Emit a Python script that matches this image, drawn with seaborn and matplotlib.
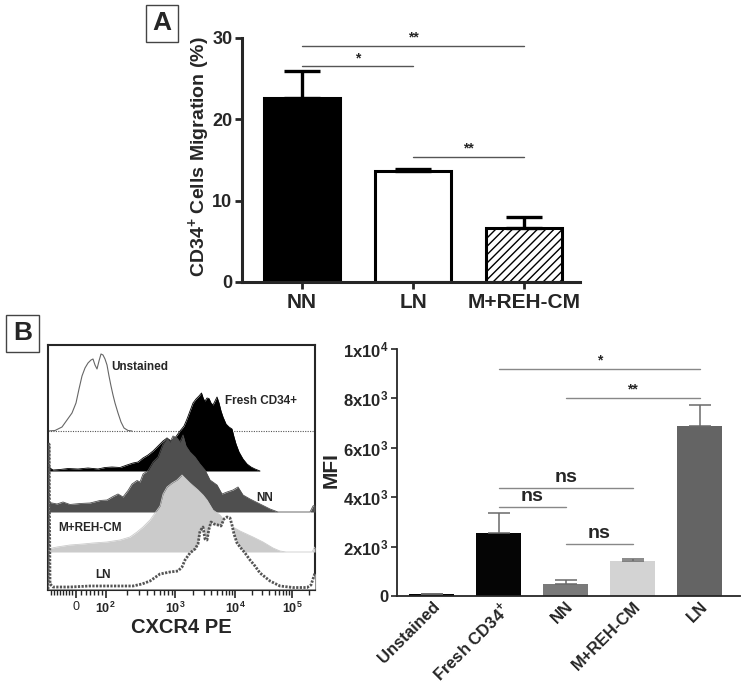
import numpy as np
import pandas as pd
import matplotlib
matplotlib.use("Agg")
import matplotlib.pyplot as plt
from matplotlib.patches import Rectangle
from matplotlib.transforms import ScaledTranslation
import seaborn as sns

# ---- Panel A: CD34+ migration (%)
mig_groups = ["NN", "LN", "M+REH-CM"]
mig_mean = [22.6, 13.6, 6.6]
mig_err = [3.3, 0.3, 1.4]
# (from, to, height, label)
mig_sig = [(0, 2, 29.0, "**"), (0, 1, 26.5, "*"), (1, 2, 15.4, "**")]

# ---- Panel B: CXCR4 histograms (channel scale, counts)
hist_ticks = [28, 57.7, 127, 187, 244]
hist_ticklabels = ["0", r"$10^{2}$", r"$10^{3}$", r"$10^{4}$", r"$10^{5}$"]

unst_x = [0, 7, 14, 19, 24, 28, 31, 34, 37, 40, 43, 45, 47, 49, 51, 53, 55, 57, 59, 61,
          63, 65, 67, 70, 73, 76, 80, 84]
unst_y = [0, 0.5, 4, 11, 18, 28, 42, 55, 63, 68, 71, 72, 66, 62, 70, 77, 76, 72, 66, 55,
          45, 36, 28, 18, 9, 3, 0.5, 0]

fresh_x = [0, 2, 5, 12, 20, 30, 40, 50, 57, 64, 72, 79, 85, 90, 95, 100, 105, 110, 115, 119,
           123, 127, 132, 136, 139, 142, 145, 148, 151, 153.5, 155.5, 157, 159, 161, 163, 165,
           167, 169, 171, 173, 175, 178, 181, 184, 186, 188, 191, 195, 199, 203, 207, 212]
fresh_y = [8, 3, 1, 1.5, 2.5, 2, 3, 2, 3.5, 4, 3.5, 6, 8, 9, 13, 16, 20, 25, 30, 33,
           30, 33, 40, 45, 52, 60, 68, 72, 75, 78, 72, 70, 73, 72.5, 68, 66,
           70, 74, 68, 60, 54, 47, 44, 42, 34, 27, 19, 12, 7, 4, 2, 0]

nn_x = [0, 4, 9, 15, 22, 32, 42, 52, 59, 65, 70, 75, 80, 84, 89, 92, 95, 100, 105, 110,
        115, 119, 122, 125, 129, 132, 135, 138, 142, 147, 152, 157, 162, 169, 174, 179, 185,
        190, 195, 202, 212, 222, 230, 262, 265, 267]
nn_y = [10, 9, 8, 10, 7.5, 8.5, 9, 11.5, 12, 15.5, 18, 15, 21.5, 28, 31.5, 30, 38, 41.5, 50, 55,
        68, 74, 70, 76, 74, 70, 77, 66, 60, 55, 48, 42, 32, 27, 18, 20, 22,
        25, 17, 13, 8, 3, 0, 0, 6, 7]

mreh_x = [0, 2, 9, 22, 35, 45, 59, 72, 82, 89, 95, 102, 107, 112, 115, 119, 124, 129, 134, 137,
          142, 150, 155, 159, 165, 172, 179, 185, 192, 205, 215, 225, 232, 238, 264, 266, 267]
mreh_y = [3, 3.5, 5, 7, 8, 9, 10, 12, 15, 20, 25, 32, 39, 46, 58, 65, 69, 72, 77, 74,
          69, 62, 57, 52, 42, 37, 28, 25, 21, 15, 10, 4, 1, 0, 0, 4, 5]

ln_x = [0, 1, 2, 5, 22, 42, 62, 85, 94, 102, 112, 122, 130, 134, 137, 142, 147, 150, 152, 155,
        157, 159, 161, 163, 166, 170, 173, 176, 179, 182, 184, 186, 189, 192, 197, 202, 207,
        212, 217, 222, 232, 245, 259, 263, 265, 267]
ln_y = [0, 145, 5, 2, 2, 3, 3, 3, 5, 8, 15, 17, 18, 22, 29, 36, 40, 45, 58, 62,
        50, 49, 60, 67, 65, 64, 63, 70, 72, 71, 64, 55, 46, 42, 36, 29, 23,
        16, 12, 8, 3, 1.5, 1.5, 4, 10, 16]

# ---- Panel B: MFI bars
mfi_groups = ["Unstained", r"Fresh CD34$^{\mathbf{+}}$", "NN", "M+REH-CM", "LN"]
mfi_mean = [100, 2570, 480, 1420, 6880]
mfi_err = [0, 810, 170, 70, 860]
mfi_sig = [(1, 4, 9190, "*", 10), (2, 4, 8010, "**", 10), (1, 3, 4390, "ns", 14),
           (1, 2, 3620, "ns", 14), (2, 3, 2110, "ns", 14)]
mfi_colors = ["#050505", "#050505", "#7a7a7a", "#d3d3d3", "#646464"]

sns.set_style("ticks")
plt.rcParams["font.family"] = ["Liberation Sans", "DejaVu Sans"]
plt.rcParams["font.weight"] = "bold"
plt.rcParams["axes.labelweight"] = "bold"
plt.rcParams["mathtext.fontset"] = "custom"
plt.rcParams["mathtext.rm"] = "Liberation Sans"
plt.rcParams["mathtext.bf"] = "Liberation Sans:bold"
plt.rcParams["hatch.linewidth"] = 1.0

W, H = 743, 684
fig = plt.figure(figsize=(W / 100, H / 100), dpi=100)


def px_axes(l, t, r, b):
    return fig.add_axes([l / W, 1 - b / H, (r - l) / W, (b - t) / H])


def panel_label(txt, l, t, r, b):
    fig.add_artist(Rectangle((l / W, 1 - b / H), (r - l) / W, (b - t) / H,
                             transform=fig.transFigure, fill=False, ec="#444444", lw=1))
    fig.text((l + r) / 2 / W, 1 - (t + b) / 2 / H, txt, ha="center", va="center",
             fontsize=19, fontweight="bold")


# ================= Panel A
axA = px_axes(242, 38, 580, 282)
dfA = pd.DataFrame({"group": mig_groups, "mean": mig_mean})
sns.barplot(data=dfA, x="group", y="mean", hue="group", palette=["black", "white", "white"],
            saturation=1, width=0.685, edgecolor="black", linewidth=2.2, errorbar=None,
            legend=False, ax=axA)
axA.patches[2].set_hatch("////")
axA.errorbar(range(len(mig_mean)), mig_mean, yerr=[[0] * len(mig_err), mig_err], fmt="none",
             ecolor="black", elinewidth=2.4, capsize=13, capthick=2.4, zorder=3)
for a, b, h, s in mig_sig:
    axA.plot([a, b], [h, h], color="#555555", lw=1)
    axA.text((a + b) / 2, h + 0.15, s, ha="center", va="bottom", fontsize=10)
axA.set_xlim(-0.54, 2.5)
axA.set_ylim(0, 30)
axA.set_yticks([0, 10, 20, 30])
sns.despine(ax=axA)
for sp in ["left", "bottom"]:
    axA.spines[sp].set_linewidth(2.2)
axA.tick_params(axis="y", width=2, length=5, labelsize=13, pad=2)
axA.tick_params(axis="x", width=2, length=5, labelsize=15, pad=3)
axA.set_xlabel("")
axA.set_ylabel(r"CD34$^{\mathbf{+}}$ Cells Migration (%)", fontsize=14)
axA.yaxis.set_label_coords(-0.086, 0.512)
panel_label("A", 146, 5, 178, 42)

# ================= Panel B histogram
axH = px_axes(48, 345, 315, 590)
lanes = [
    ("Unstained", unst_x, unst_y, 159, "white"),
    ("Fresh CD34+", fresh_x, fresh_y, 119, "black"),
    ("NN", nn_x, nn_y, 78, "#4f4f4f"),
    ("M+REH-CM", mreh_x, mreh_y, 38, "#cbcbcb"),
    ("LN", ln_x, ln_y, 1, "white"),
]
for i, (name, xs, ys, off, col) in enumerate(lanes):
    xs = np.array(xs)
    ys = np.array(ys) + off
    z = 2 + i
    axH.fill_between(xs, off, ys, color=col, lw=0, zorder=z)
    if name == "Unstained":
        axH.axhline(off, color="#555555", lw=0.8, ls=(0, (1, 1.2)), zorder=z)
        axH.plot(xs, ys, color="#666666", lw=0.8, zorder=z)
    elif name == "LN":
        axH.plot(xs, ys, color="#555555", lw=2, ls=(0, (0.8, 0.5)), zorder=z)
    else:
        axH.plot(xs, ys, color=col, lw=0.6, zorder=z)

lane_text = [("Unstained", 63.7, 223, "left"), ("Fresh CD34+", 177, 189, "left"),
             ("NN", 217, 92, "center"), ("M+REH-CM", 10, 62, "left"), ("LN", 54.5, 15, "center")]
for t, x, y, ha in lane_text:
    axH.text(x, y, t, ha=ha, va="center", fontsize=8.5, zorder=10)

axH.set_xlim(0, 267)
axH.set_ylim(0, 245)
axH.set_yticks([])
axH.set_xticks(hist_ticks)
axH.set_xticklabels(hist_ticklabels, fontsize=9, fontweight="normal")
minor = [3, 6, 9, 12, 15, 18, 21, 24, 33, 38, 42, 46, 50, 54]
for a, b in zip(hist_ticks[1:-1], hist_ticks[2:]):
    minor += [a + (b - a) * np.log10(k) for k in range(2, 10)]
minor += [244 + 57 * np.log10(2)]
axH.set_xticks(minor, minor=True)
axH.tick_params(axis="x", which="major", length=6, width=1.2, pad=2)
axH.tick_params(axis="x", which="minor", length=3.5, width=1)
for sp in axH.spines.values():
    sp.set_linewidth(1.5)
axH.set_xlabel("CXCR4 PE", fontsize=14.5, labelpad=1)
panel_label("B", 6, 315, 39, 352)

# ================= Panel B bars
axB = px_axes(397, 349, 740, 596)
dfB = pd.DataFrame({"group": mfi_groups, "mfi": mfi_mean})
sns.barplot(data=dfB, x="group", y="mfi", hue="group", palette=mfi_colors, saturation=1,
            width=0.67, linewidth=0, errorbar=None, legend=False, ax=axB)
axB.errorbar(range(len(mfi_mean)), mfi_mean, yerr=[[0] * len(mfi_err), mfi_err], fmt="none",
             ecolor="#6a6a6a", elinewidth=1.1, capsize=8, capthick=1.1, zorder=3)
for a, b, h, s, fs in mfi_sig:
    axB.plot([a, b], [h, h], color="#888888", lw=1)
    axB.text((a + b) / 2, h + 80, s, ha="center", va="bottom", fontsize=fs)
axB.set_xlim(-0.52, 4.6)
axB.set_ylim(0, 10000)
axB.set_yticks([0, 2000, 4000, 6000, 8000, 10000])
axB.set_yticklabels(["0", r"$\mathbf{2x10^{3}}$", r"$\mathbf{4x10^{3}}$", r"$\mathbf{6x10^{3}}$",
                     r"$\mathbf{8x10^{3}}$", r"$\mathbf{1x10^{4}}$"], fontsize=12)
axB.set_xticks(range(len(mfi_groups)))
axB.set_xticklabels(mfi_groups, rotation=45, ha="right", va="top", rotation_mode="anchor",
                    fontsize=12)
shift = ScaledTranslation(4 / 100, 2 / 100, fig.dpi_scale_trans)
for lab in axB.get_xticklabels():
    lab.set_transform(lab.get_transform() + shift)
sns.despine(ax=axB)
for sp in ["left", "bottom"]:
    axB.spines[sp].set_linewidth(1.3)
axB.tick_params(axis="y", length=4, width=1.2, pad=2)
axB.tick_params(axis="x", length=0, pad=2)
axB.set_xlabel("")
axB.set_ylabel("MFI", fontsize=15)
axB.yaxis.set_label_coords(-0.165, 0.51)

fig.savefig("out.png", dpi=100)
